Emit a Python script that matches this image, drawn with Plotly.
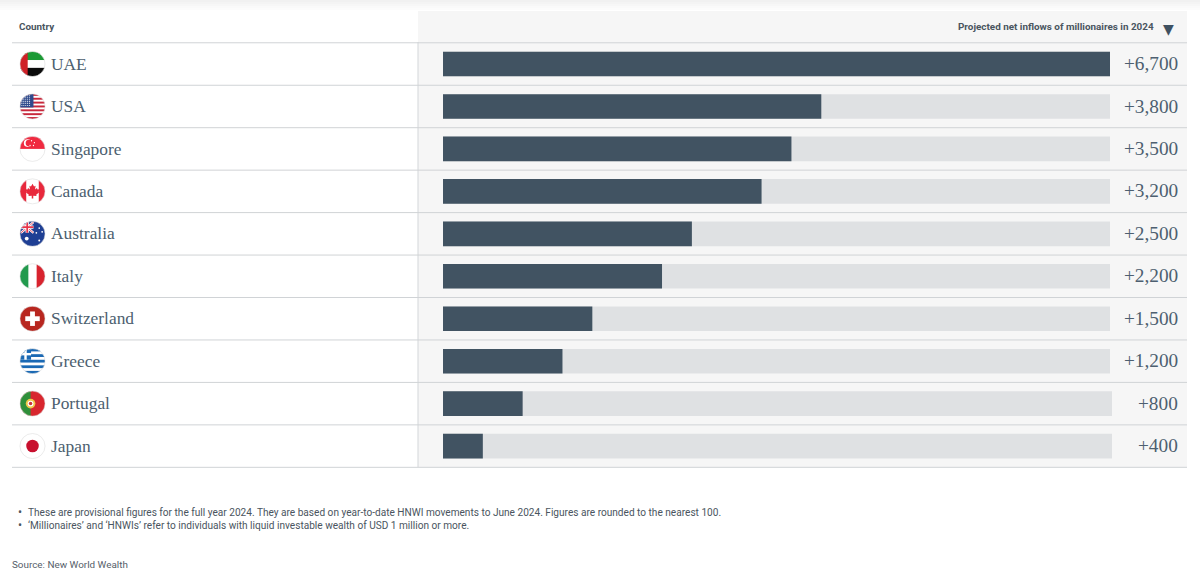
import base64
import plotly.express as px
import pandas as pd

countries = ["UAE", "USA", "Singapore", "Canada", "Australia", "Italy", "Switzerland", "Greece", "Portugal", "Japan"]
inflows = [6700, 3800, 3500, 3200, 2500, 2200, 1500, 1200, 800, 400]
tracks = [6700, 6700, 6700, 6700, 6700, 6700, 6700, 6700, 6720, 6720]  # last two run a bit longer

stripes = "".join(f'<rect y="{i * 2}" width="26" height="2" fill="#c8283c"/>' for i in range(0, 13, 2))
us_stars = "".join(f'<circle cx="{x}" cy="{y}" r="0.55" fill="#fff"/>' for x in range(2, 12, 2) for y in range(2, 13, 2))
greek = "".join(f'<rect y="{i * 2.89}" width="26" height="2.89" fill="#1a69b4"/>' for i in range(0, 9, 2))

flags = {
    "UAE": '<rect width="26" height="9" fill="#1b9a35"/><rect y="9" width="26" height="8" fill="#fff"/>'
           '<rect y="17" width="26" height="9" fill="#0b0b0b"/><rect width="8" height="26" fill="#cf2027"/>',
    "USA": f'<rect width="26" height="26" fill="#fff"/>{stripes}<rect width="14" height="14" fill="#2f4a8c"/>{us_stars}',
    "Singapore": '<rect width="26" height="26" fill="#fff"/><rect width="26" height="13" fill="#f02a40"/>'
                 '<circle cx="8" cy="7" r="4" fill="#fff"/><circle cx="9.5" cy="7" r="3.6" fill="#f02a40"/>'
                 '<circle cx="12" cy="4.5" r="0.7" fill="#fff"/><circle cx="15" cy="6.5" r="0.7" fill="#fff"/>'
                 '<circle cx="14" cy="9.5" r="0.7" fill="#fff"/><circle cx="10.5" cy="9.5" r="0.7" fill="#fff"/>',
    "Canada": '<rect width="26" height="26" fill="#fff"/><rect width="6.5" height="26" fill="#e8283c"/>'
              '<rect x="19.5" width="6.5" height="26" fill="#e8283c"/>'
              '<path d="M13 5l1.6 3 1.6-.8-.6 4 2-1.6.6 1.4 2-.3-.8 2.5.9.6-3.5 2.8.4 1.3-3.4-.4v3h-1.6v-3'
              'l-3.4.4.4-1.3-3.5-2.8.9-.6-.8-2.5 2 .3.6-1.4 2 1.6-.6-4 1.6.8z" fill="#e8283c"/>',
    "Australia": '<rect width="26" height="26" fill="#1f3f94"/><rect width="14" height="12" fill="#2a3f8c"/>'
                 '<path d="M1 1L14 12M14 1L1 12" stroke="#fff" stroke-width="2.4"/>'
                 '<path d="M1 1L14 12M14 1L1 12" stroke="#e8485a" stroke-width="0.9"/>'
                 '<path d="M7.5 0V12M0 6H14" stroke="#fff" stroke-width="3.4"/>'
                 '<path d="M7.5 0V12M0 6H14" stroke="#e8344a" stroke-width="1.8"/>'
                 '<circle cx="7" cy="18" r="2" fill="#fff"/><circle cx="20" cy="7" r="0.9" fill="#fff"/>'
                 '<circle cx="23" cy="11" r="0.9" fill="#fff"/><circle cx="17" cy="12" r="0.9" fill="#fff"/>'
                 '<circle cx="20" cy="20" r="1" fill="#fff"/>',
    "Italy": '<rect width="26" height="26" fill="#fff"/><rect width="8.7" height="26" fill="#229a4d"/>'
             '<rect x="17.3" width="8.7" height="26" fill="#d8232e"/>',
    "Switzerland": '<rect width="26" height="26" fill="#b8261f"/><rect x="10.5" y="5.5" width="5" height="15" fill="#fff"/>'
                   '<rect x="5.5" y="10.5" width="15" height="5" fill="#fff"/>',
    "Greece": f'<rect width="26" height="26" fill="#fff"/>{greek}<rect width="11.5" height="11.5" fill="#1a69b4"/>'
              '<rect x="4.5" width="2.5" height="11.5" fill="#fff"/><rect y="4.5" width="11.5" height="2.5" fill="#fff"/>',
    "Portugal": '<rect width="26" height="26" fill="#d8262e"/><rect width="11" height="26" fill="#2f8f3a"/>'
                '<circle cx="11" cy="13" r="5" fill="#f0c84a"/><circle cx="11" cy="13" r="3" fill="#fff"/>'
                '<circle cx="11" cy="13" r="1.8" fill="#c8323a"/>',
    "Japan": '<rect width="26" height="26" fill="#fff"/><circle cx="13" cy="13" r="6.5" fill="#c8102e"/>',
}

df = pd.DataFrame({
    "country": countries * 2,
    "value": tracks + inflows,
    "series": ["track"] * 10 + ["inflow"] * 10,
})

fig = px.bar(
    df,
    x="value",
    y="country",
    color="series",
    orientation="h",
    barmode="overlay",
    color_discrete_map={"track": "#dfe1e3", "inflow": "#415362"},
    template="plotly_white"
)
fig.update_traces(width=0.58, marker_line_width=0, marker_opacity=1)

fig.update_layout(
    width=1200,
    height=576,
    margin=dict(l=0, r=0, t=0, b=0),
    showlegend=False,
    plot_bgcolor="white",
    paper_bgcolor="white",
    xaxis=dict(range=[-4450, 7604], visible=False),
    yaxis=dict(range=[12.06, -1.508], visible=False, categoryorder="array", categoryarray=countries),
)

# soft shadow along the top edge
for i, shade in enumerate(["#f1f1f1", "#f4f4f4", "#f7f7f7", "#fafafa", "#fcfcfc"]):
    fig.add_shape(type="rect", xref="paper", yref="paper", x0=0, x1=1, y0=1 - (i + 1) * 2 / 576, y1=1 - i * 2 / 576,
                  fillcolor=shade, line_width=0, layer="below")

# grey panel behind the bars
fig.add_shape(type="rect", xref="paper", yref="paper", x0=418 / 1200, x1=1187 / 1200, y0=1 - 467 / 576, y1=1 - 11 / 576,
              fillcolor="#f6f6f6", line_width=0, layer="below")
fig.add_shape(type="line", xref="paper", yref="paper", x0=418 / 1200, x1=418 / 1200, y0=1 - 467 / 576, y1=1 - 42 / 576,
              line=dict(color="#d3d6d9", width=1), layer="below")

for i in range(-1, 10):
    fig.add_shape(type="line", xref="paper", yref="y", x0=12 / 1200, x1=1187 / 1200, y0=i + 0.5, y1=i + 0.5,
                  line=dict(color="#d0d3d6", width=1), layer="below")

for i, country in enumerate(countries):
    svg = (
        '<svg xmlns="http://www.w3.org/2000/svg" viewBox="-1 -1 28 28" width="112" height="112">'
        '<defs><clipPath id="c"><circle cx="13" cy="13" r="13"/></clipPath></defs>'
        f'<g clip-path="url(#c)">{flags[country]}</g>'
        '<circle cx="13" cy="13" r="13" fill="none" stroke="#dcdcdc" stroke-width="0.6"/></svg>'
    )
    fig.add_layout_image(
        source="data:image/svg+xml;base64," + base64.b64encode(svg.encode()).decode(),
        xref="paper", yref="paper",
        x=19 / 1200, y=1 - (64 + i * 42.45 - 13.5) / 576,
        sizex=27 / 1200, sizey=27 / 576,
        xanchor="left", yanchor="top", sizing="stretch", layer="above"
    )
    fig.add_annotation(x=49 / 1200, xref="paper", y=i - 0.01, yref="y", text=country, showarrow=False, xanchor="left",
                       font=dict(family="Liberation Serif", size=17.4, color="#4d5f70"))
    fig.add_annotation(x=1179.5 / 1200, xref="paper", y=i - 0.01, yref="y", text=f"+{inflows[i]:,}", showarrow=False, xanchor="right",
                       font=dict(family="Liberation Serif", size=19.3, color="#4d5f70"))

fig.add_annotation(x=17 / 1200, xref="paper", y=1 - 26.5 / 576, yref="paper", yanchor="middle", text="<b>Country</b>", showarrow=False, xanchor="left",
                   font=dict(family="Roboto", size=9.9, color="#4a5560"))
fig.add_annotation(x=1156 / 1200, xref="paper", y=1 - 26.5 / 576, yref="paper", yanchor="middle", text="<b>Projected net inflows of millionaires in 2024</b>",
                   showarrow=False, xanchor="right", font=dict(family="Roboto", size=9.9, color="#4a5560"))
fig.add_annotation(x=1168.5 / 1200, xref="paper", y=1 - 29 / 576, yref="paper", yanchor="middle", xanchor="center", text="▼", showarrow=False,
                   font=dict(family="DejaVu Sans", size=14, color="#3f5161"))

notes = [
    "These are provisional figures for the full year 2024. They are based on year-to-date HNWI movements to June 2024. Figures are rounded to the nearest 100.",
    "‘Millionaires’ and ‘HNWIs’ refer to individuals with liquid investable wealth of USD 1 million or more.",
]
for y_px, note in zip([512, 525], notes):
    fig.add_annotation(x=15.5 / 1200, xref="paper", y=1 - y_px / 576, yref="paper", yanchor="middle", text="•", showarrow=False, xanchor="left",
                       font=dict(family="Roboto", size=12, color="#4a5560"))
    fig.add_annotation(x=26 / 1200, xref="paper", y=1 - y_px / 576, yref="paper", yanchor="middle", text=note, showarrow=False, xanchor="left",
                       font=dict(family="Roboto", size=10.1, color="#4a5560"))
fig.add_annotation(x=10 / 1200, xref="paper", y=1 - 564 / 576, yref="paper", yanchor="middle", text="Source: New World Wealth", showarrow=False,
                   xanchor="left", font=dict(family="Roboto", size=9.9, color="#55606a"))

fig.write_html("out.html", config={"displayModeBar": False},
               post_script="document.body.style.margin='0';document.documentElement.style.overflow='hidden';")
